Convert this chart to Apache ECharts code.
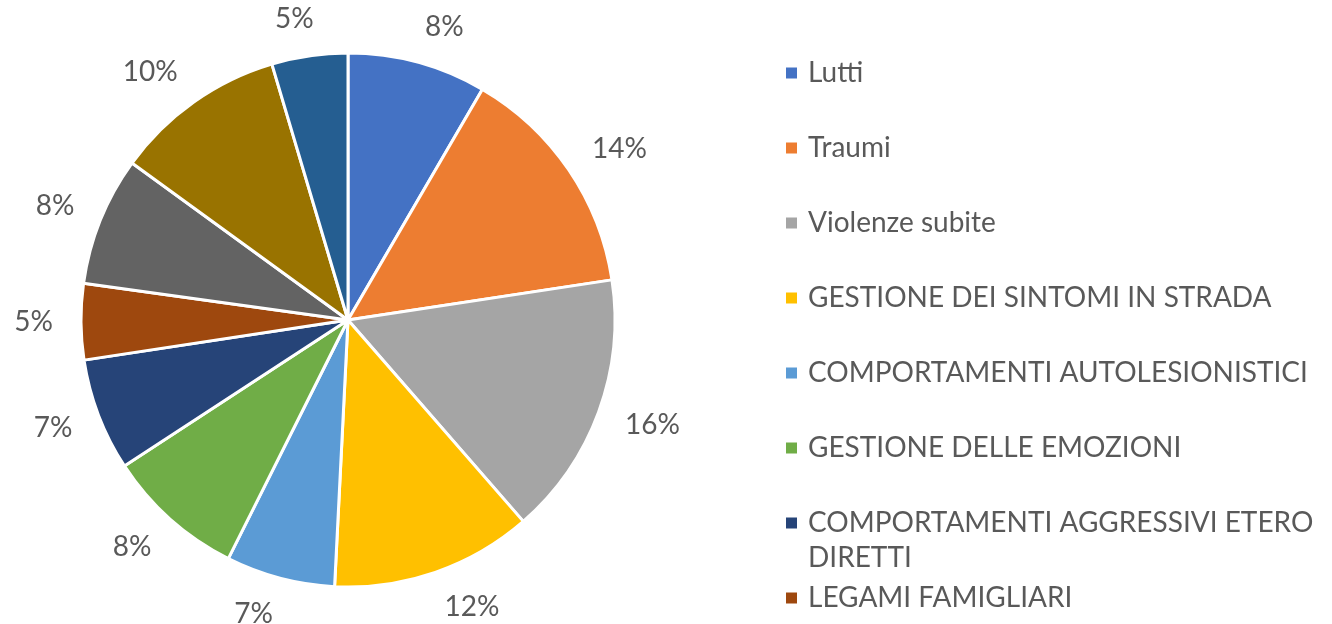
<!DOCTYPE html>
<html lang="it">
<head>
    <meta charset="UTF-8">
    <title>Tematiche</title>
    <script src="https://cdn.jsdelivr.net/npm/echarts@6/dist/echarts.min.js"></script>
    <style>
        html, body { margin: 0; padding: 0; background: #fff; }
        #main { width: 1332px; height: 624px; }
    </style>
</head>
<body>
<div id="main"></div>
<script>
    // categorie (le ultime tre non compaiono nella legenda originale, tagliata)
    const categories = [
        'Lutti',
        'Traumi',
        'Violenze subite',
        'GESTIONE DEI SINTOMI IN STRADA',
        'COMPORTAMENTI AUTOLESIONISTICI',
        'GESTIONE DELLE EMOZIONI',
        'COMPORTAMENTI AGGRESSIVI ETERO DIRETTI',
        'LEGAMI FAMIGLIARI',
        'Categoria 9',
        'Categoria 10',
        'Categoria 11'
    ];
    // valori (quote in %)
    const values = [8.4, 14.2, 16.0, 12.2, 6.6, 8.4, 6.8, 4.6, 7.8, 10.4, 4.6];
    const colors = ['#4472C4', '#ED7D31', '#A5A5A5', '#FFC000', '#5B9BD5', '#70AD47',
                    '#264478', '#9E480E', '#636363', '#997300', '#255E91'];
    const legendItems = categories.slice(0, 8);

    const font = 'Lato, "Open Sans", sans-serif';
    const textColor = '#595959';
    const pieCenter = [348, 320];
    const pieRadius = 267;

    // angolo medio di ogni fetta (da ore 12, senso orario)
    const total = values.reduce((a, b) => a + b, 0);
    let acc = 0;
    const midAngles = values.map(v => {
        const a = (acc + v / 2) / total * Math.PI * 2;
        acc += v;
        return a;
    });

    // una legenda per voce, per avere passo fisso come nell'originale
    const legends = legendItems.map((name, i) => {
        const centerY = 73 + i * 75;
        const wrapped = name === 'COMPORTAMENTI AGGRESSIVI ETERO DIRETTI';
        return {
            orient: 'vertical',
            left: 784,
            top: wrapped ? centerY - 52.5 : centerY - 17.5,
            padding: 0,
            itemWidth: 13,
            itemHeight: 13,
            icon: 'rect',
            selectedMode: false,
            data: [name],
            // riga vuota in testa: cosi' il quadratino resta sulla prima riga
            formatter: n => wrapped ? '\nCOMPORTAMENTI AGGRESSIVI ETERO\nDIRETTI' : n,
            textStyle: {
                fontFamily: font,
                fontSize: 28,
                color: textColor,
                lineHeight: 35,
                padding: [0, 0, 0, 5]
            }
        };
    });

    let myChart = echarts.init(document.getElementById('main'));
    let option = {
        animation: false,
        color: colors,
        legend: legends,
        series: [
            {
                type: 'pie',
                center: pieCenter,
                radius: pieRadius,
                startAngle: 90,
                clockwise: true,
                percentPrecision: 0,
                itemStyle: {
                    borderColor: '#fff',
                    borderWidth: 3
                },
                label: {
                    show: true,
                    position: 'inside',
                    formatter: '{d}%',
                    fontFamily: font,
                    fontSize: 28,
                    color: textColor
                },
                labelLine: { show: false },
                // etichette appena fuori dal bordo, spostate del mezzo riquadro verso l'esterno
                labelLayout: function (params) {
                    const a = midAngles[params.dataIndex];
                    const sx = Math.sin(a), sy = -Math.cos(a);
                    const halfW = params.labelRect.width / 2;
                    const d = pieRadius + 22;
                    const offX = Math.sign(sx) * halfW * Math.min(1, Math.abs(sx) * 4) + sx * 6;
                    return {
                        x: pieCenter[0] + d * sx + offX,
                        y: pieCenter[1] + d * sy + sy * 15,
                        align: 'center',
                        verticalAlign: 'middle'
                    };
                },
                data: categories.map((name, i) => ({ name: name, value: values[i] }))
            }
        ]
    };
    myChart.setOption(option);
</script>
</body>
</html>
